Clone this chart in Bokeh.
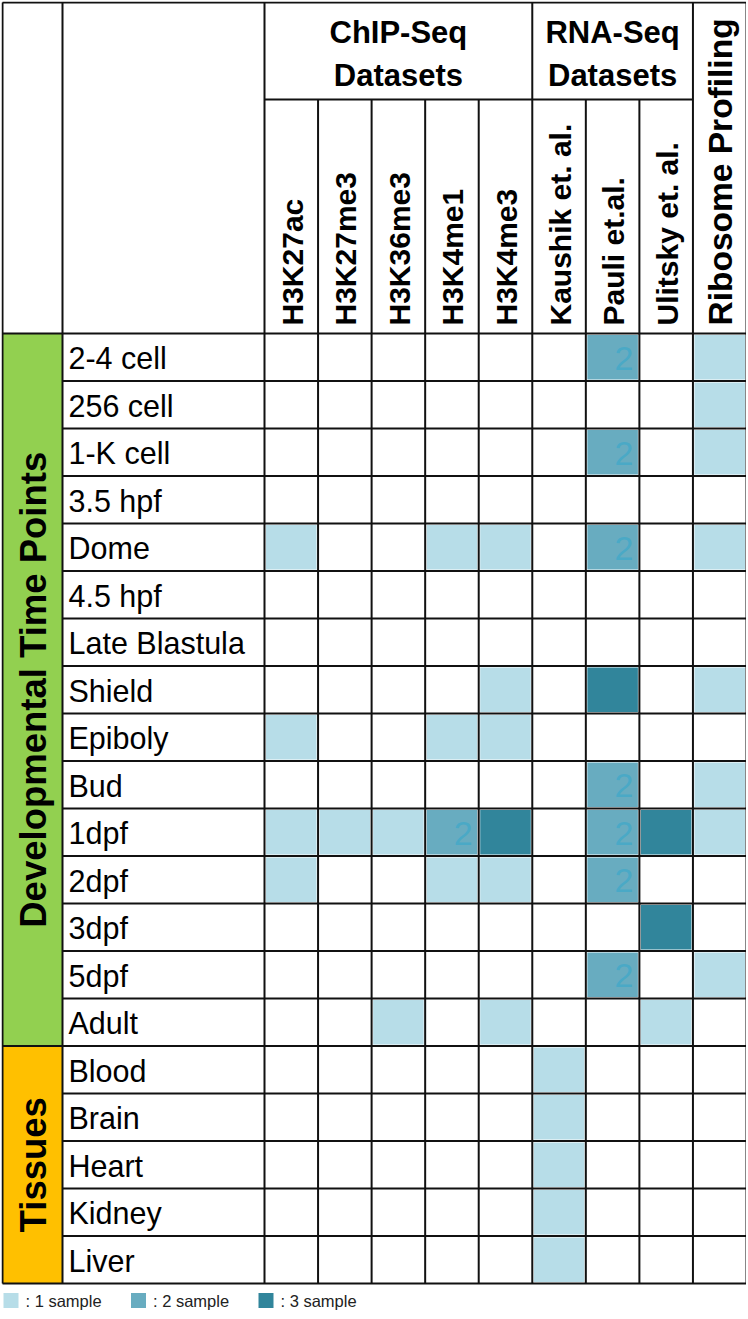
import math
from bokeh.plotting import figure
from bokeh.models import Range1d
from bokeh.core.properties import value
from bokeh.embed import file_html
from bokeh.resources import INLINE

# ---------------- data ----------------
row_labels = ["2-4 cell", "256 cell", "1-K cell", "3.5 hpf", "Dome", "4.5 hpf",
              "Late Blastula", "Shield", "Epiboly", "Bud", "1dpf", "2dpf",
              "3dpf", "5dpf", "Adult", "Blood", "Brain", "Heart", "Kidney", "Liver"]
row_groups = ["Developmental Time Points"] * 15 + ["Tissues"] * 5
group_colors = {"Developmental Time Points": "#92d050", "Tissues": "#ffc000"}

col_labels = ["H3K27ac", "H3K27me3", "H3K36me3", "H3K4me1", "H3K4me3",
              "Kaushik et. al.", "Pauli et.al.", "Ulitsky et. al.", "Ribosome Profiling"]
col_groups = ["ChIP-Seq\nDatasets"] * 5 + ["RNA-Seq\nDatasets"] * 3 + ["Ribosome Profiling"]

# number of samples per column, one value per row (row order as row_labels)
H3K27ac  = [0, 0, 0, 0, 1, 0, 0, 0, 1, 0, 1, 1, 0, 0, 0, 0, 0, 0, 0, 0]
H3K27me3 = [0, 0, 0, 0, 0, 0, 0, 0, 0, 0, 1, 0, 0, 0, 0, 0, 0, 0, 0, 0]
H3K36me3 = [0, 0, 0, 0, 0, 0, 0, 0, 0, 0, 1, 0, 0, 0, 1, 0, 0, 0, 0, 0]
H3K4me1  = [0, 0, 0, 0, 1, 0, 0, 0, 1, 0, 2, 1, 0, 0, 0, 0, 0, 0, 0, 0]
H3K4me3  = [0, 0, 0, 0, 1, 0, 0, 1, 1, 0, 3, 1, 0, 0, 1, 0, 0, 0, 0, 0]
Kaushik  = [0, 0, 0, 0, 0, 0, 0, 0, 0, 0, 0, 0, 0, 0, 0, 1, 1, 1, 1, 1]
Pauli    = [2, 0, 2, 0, 2, 0, 0, 3, 0, 2, 2, 2, 0, 2, 0, 0, 0, 0, 0, 0]
Ulitsky  = [0, 0, 0, 0, 0, 0, 0, 0, 0, 0, 3, 0, 3, 0, 1, 0, 0, 0, 0, 0]
Ribosome = [1, 1, 1, 0, 1, 0, 0, 1, 0, 1, 1, 0, 0, 1, 0, 0, 0, 0, 0, 0]
columns = [H3K27ac, H3K27me3, H3K36me3, H3K4me1, H3K4me3, Kaushik, Pauli, Ulitsky, Ribosome]

legend_levels = [1, 2, 3]
legend_labels = [": 1 sample", ": 2 sample", ": 3 sample"]

# ---------------- style / layout ----------------
level_colors = {1: "#b7dde8", 2: "#68acc0", 3: "#31859b"}
digit_color = "#4aa9c6"
FONT = value("Liberation Sans")

X_LEFT, X_GROUP, X_LABEL, X_RIGHT = 2, 62, 264, 746
Y_TOP, Y_MID, Y_HEAD = 2, 99, 333
ROW_H = 47.5
NCOL, NROW = len(col_labels), len(row_labels)
COL_W = (X_RIGHT - X_LABEL) / NCOL
Y_BOTTOM = Y_HEAD + NROW * ROW_H


def sy(pix):
    return -pix


def col_x0(j):
    return X_LABEL + j * COL_W


def row_y0(i):
    return Y_HEAD + i * ROW_H


W, H = 745, 1309
p = figure(width=W, height=H, output_backend="svg", toolbar_location=None,
           x_range=Range1d(X_LEFT - 1, X_LEFT - 1 + W),
           y_range=Range1d(sy(Y_TOP - 1 + H), sy(Y_TOP - 1)),
           min_border=0, margin=(1, 0, 0, 1))
p.axis.visible = False
p.grid.visible = False
p.outline_line_color = None
p.background_fill_color = "white"

# group colour blocks
groups_order = []
for g in row_groups:
    if g not in groups_order:
        groups_order.append(g)
gl, gr, gt, gb, gc, gx, gy = [], [], [], [], [], [], []
for g in groups_order:
    idx = [i for i, rg in enumerate(row_groups) if rg == g]
    top, bot = row_y0(idx[0]), row_y0(idx[-1] + 1)
    gl.append(X_LEFT); gr.append(X_GROUP); gt.append(sy(top)); gb.append(sy(bot))
    gc.append(group_colors[g]); gx.append((X_LEFT + X_GROUP) / 2 + 1); gy.append(sy((top + bot) / 2))
p.quad(left=gl, right=gr, top=gt, bottom=gb, fill_color=gc, line_color=None)
p.text(x=gx, y=gy, text=groups_order, angle=math.pi / 2, text_align="center",
       text_baseline="middle", text_font=FONT, text_font_style="bold",
       text_font_size="36.5px", text_color="black")

# cells
cl, cr, ct, cb, cc = [], [], [], [], []
dx, dy, dt = [], [], []
INS = 1.5
for j, vals in enumerate(columns):
    for i, v in enumerate(vals):
        if v > 0:
            cl.append(col_x0(j) + INS); cr.append(col_x0(j + 1) - INS)
            ct.append(sy(row_y0(i) + INS)); cb.append(sy(row_y0(i + 1) - INS))
            cc.append(level_colors[v])
            if v == 2:
                dx.append(col_x0(j + 1) - 6); dy.append(sy(row_y0(i) + ROW_H / 2 + 1))
                dt.append(str(v))
p.quad(left=cl, right=cr, top=ct, bottom=cb, fill_color=cc, line_color=None)
p.text(x=dx, y=dy, text=dt, text_align="right", text_baseline="middle",
       text_font=FONT, text_font_size="34px", text_color=digit_color)

# row labels
p.text(x=[X_GROUP + 6] * NROW, y=[sy(row_y0(i) + ROW_H / 2 + 1) for i in range(NROW)],
       text=row_labels, text_align="left", text_baseline="middle",
       text_font=FONT, text_font_size="30.5px", text_color="black")

# column headers (vertical)
hdr_x = [col_x0(j) + COL_W / 2 + 1 for j in range(NCOL)]
p.text(x=hdr_x[:-1], y=[sy(Y_HEAD - 8)] * (NCOL - 1), text=col_labels[:-1],
       angle=math.pi / 2, text_align="left", text_baseline="middle",
       text_font=FONT, text_font_style="bold", text_font_size="30px", text_color="black")
p.text(x=hdr_x[-1:], y=[sy(Y_HEAD - 8)], text=col_labels[-1:],
       angle=math.pi / 2, text_align="left", text_baseline="middle",
       text_font=FONT, text_font_style="bold", text_font_size="33.5px", text_color="black")

# group headers
hg, hgx = [], []
for g in col_groups[:-1]:
    if g not in hg:
        hg.append(g)
for g in hg:
    idx = [j for j, cg in enumerate(col_groups) if cg == g]
    hgx.append((col_x0(idx[0]) + col_x0(idx[-1] + 1)) / 2)
p.text(x=hgx, y=[sy((Y_TOP + Y_MID) / 2 + 3)] * len(hg), text=hg,
       text_align="center", text_baseline="middle", text_line_height=1.25,
       text_font=FONT, text_font_style="bold", text_font_size="31px", text_color="black")

# grid lines
x0s, y0s, x1s, y1s = [], [], [], []


def seg(a, b, c, d):
    x0s.append(a); y0s.append(sy(b)); x1s.append(c); y1s.append(sy(d))


seg(X_LEFT, Y_TOP, X_RIGHT, Y_TOP)
seg(X_LEFT, Y_BOTTOM, X_RIGHT, Y_BOTTOM)
seg(X_LEFT, Y_TOP, X_LEFT, Y_BOTTOM)
seg(X_RIGHT, Y_TOP, X_RIGHT, Y_BOTTOM)
seg(X_GROUP, Y_TOP, X_GROUP, Y_BOTTOM)
seg(X_LABEL, Y_TOP, X_LABEL, Y_BOTTOM)
for j in range(1, NCOL):
    top = Y_TOP if col_groups[j] != col_groups[j - 1] else Y_MID
    seg(col_x0(j), top, col_x0(j), Y_BOTTOM)
seg(X_LABEL, Y_MID, col_x0(NCOL - 1), Y_MID)
seg(X_LEFT, Y_HEAD, X_RIGHT, Y_HEAD)
for i in range(1, NROW):
    left = X_LEFT if row_groups[i] != row_groups[i - 1] else X_GROUP
    seg(left, row_y0(i), X_RIGHT, row_y0(i))
p.segment(x0=x0s, y0=y0s, x1=x1s, y1=y1s, line_color="#111111", line_width=2)

# legend
LEG_X0, LEG_DX, LEG_Y, SQ = 3, 127.5, 1300, 15
lx = [LEG_X0 + k * LEG_DX for k in range(len(legend_levels))]
p.quad(left=lx, right=[x + SQ for x in lx], top=[sy(LEG_Y - SQ / 2)] * 3,
       bottom=[sy(LEG_Y + SQ / 2)] * 3, fill_color=[level_colors[v] for v in legend_levels],
       line_color=None)
p.text(x=[x + SQ + 7 for x in lx], y=[sy(LEG_Y)] * 3, text=legend_labels,
       text_align="left", text_baseline="middle", text_font=FONT,
       text_font_size="16.5px", text_color="#222222")

open("out.html", "w").write(file_html(p, INLINE))
